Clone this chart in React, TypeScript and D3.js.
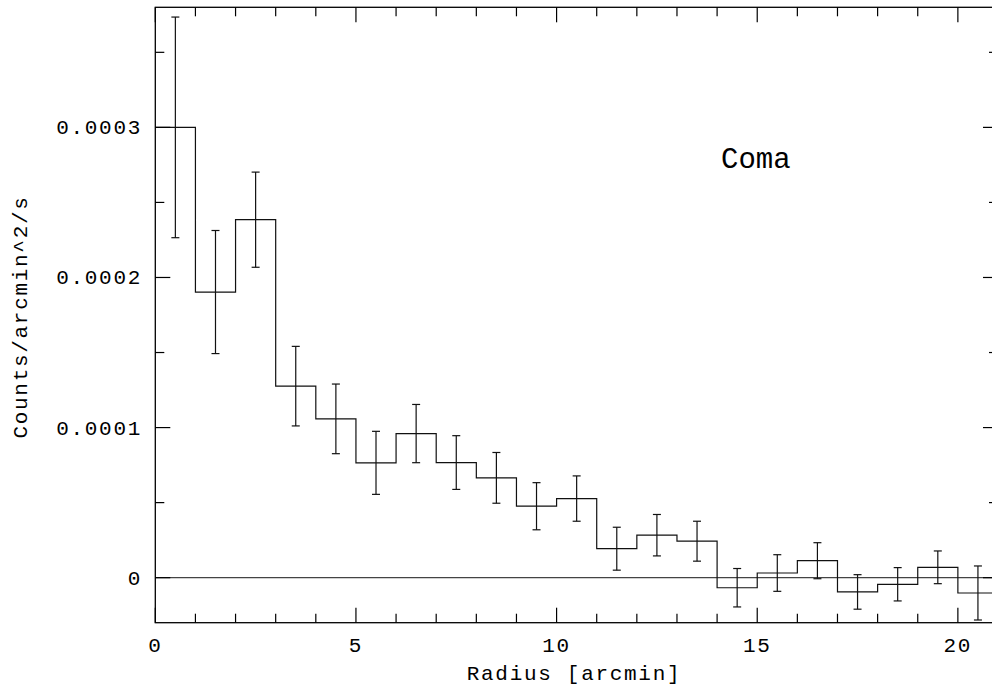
import React from "react";
import * as d3 from "d3";

const radius = [0.5, 1.5, 2.5, 3.5, 4.5, 5.5, 6.5, 7.5, 8.5, 9.5, 10.5, 11.5, 12.5, 13.5, 14.5, 15.5, 16.5, 17.5, 18.5, 19.5, 20.5];
const counts = [3.0e-4, 1.903e-4, 2.385e-4, 1.276e-4, 1.058e-4, 0.765e-4, 0.96e-4, 0.767e-4, 0.665e-4, 0.476e-4, 0.527e-4, 0.193e-4, 0.283e-4, 0.243e-4, -0.067e-4, 0.031e-4, 0.113e-4, -0.095e-4, -0.044e-4, 0.069e-4, -0.102e-4];
const errors = [0.735e-4, 0.41e-4, 0.317e-4, 0.265e-4, 0.232e-4, 0.21e-4, 0.194e-4, 0.179e-4, 0.169e-4, 0.157e-4, 0.151e-4, 0.143e-4, 0.138e-4, 0.133e-4, 0.128e-4, 0.122e-4, 0.12e-4, 0.115e-4, 0.111e-4, 0.109e-4, 0.18e-4];
const binWidth = 1;
const xMajorTicks = [0, 5, 10, 15, 20];
const yMajorTicks = [0, 0.0001, 0.0002, 0.0003];
const yTickLabels = ["0", "0.0001", "0.0002", "0.0003"];

const W = 992;
const H = 686;
const left = 155.3;
const right = 998;
const top = 7.3;
const bottom = 622.7;

const FONT = "'Liberation Mono', 'DejaVu Sans Mono', monospace";

export default function App() {
  const x = d3.scaleLinear().domain([0, 21]).range([left, right]);
  const y = d3.scaleLinear().domain([-0.3e-4, 3.8e-4]).range([bottom, top]);

  const stepPts: [number, number][] = [];
  radius.forEach((r, i) => {
    stepPts.push([r - binWidth / 2, counts[i]]);
    stepPts.push([r + binWidth / 2, counts[i]]);
  });
  const line = d3
    .line<[number, number]>()
    .x((d) => x(d[0]))
    .y((d) => y(d[1]));

  const xMinor = d3.range(0, 22, 1);
  const yMinor = d3.range(0, 3.8e-4, 0.5e-4);
  const isMajorX = (v: number) => Math.abs(v % 5) < 1e-9;
  const isMajorY = (v: number) => Math.abs(Math.round(v / 1e-4) * 1e-4 - v) < 1e-9;

  const stroke = "#111";

  return (
    <svg
      width={W}
      height={H}
      style={{ position: "absolute", left: 0, top: 0, background: "#fff" }}
    >
      <rect x={0} y={0} width={W} height={H} fill="#fff" />
      {/* zero line */}
      <line x1={left} x2={right} y1={y(0)} y2={y(0)} stroke="#444" strokeWidth={1.2} />
      {/* histogram */}
      <path d={line(stepPts) || ""} fill="none" stroke={stroke} strokeWidth={1.2} />
      {/* error bars */}
      {radius.map((r, i) => {
        const cx = x(r);
        const y1 = y(counts[i] + errors[i]);
        const y2 = y(counts[i] - errors[i]);
        return (
          <g key={i} stroke={stroke} strokeWidth={1.2}>
            <line x1={cx} x2={cx} y1={y1} y2={y2} />
            <line x1={cx - 4} x2={cx + 4} y1={y1} y2={y1} />
            <line x1={cx - 4} x2={cx + 4} y1={y2} y2={y2} />
          </g>
        );
      })}
      {/* frame */}
      <rect
        x={left}
        y={top}
        width={right - left}
        height={bottom - top}
        fill="none"
        stroke="#000"
        strokeWidth={1.3}
      />
      {/* x ticks */}
      {xMinor.map((v) => {
        const len = isMajorX(v) ? 15 : 9;
        const px = x(v);
        return (
          <g key={"xt" + v} stroke="#000" strokeWidth={1.2}>
            <line x1={px} x2={px} y1={bottom} y2={bottom - len} />
            <line x1={px} x2={px} y1={top} y2={top + len} />
          </g>
        );
      })}
      {/* y ticks */}
      {yMinor.map((v) => {
        const len = isMajorY(v) ? 15 : 9;
        const py = y(v);
        return (
          <g key={"yt" + v} stroke="#000" strokeWidth={1.2}>
            <line x1={left} x2={left + len} y1={py} y2={py} />
            <line x1={right} x2={right - len} y1={py} y2={py} />
          </g>
        );
      })}
      {/* x tick labels */}
      {xMajorTicks.map((v) => (
        <text
          key={"xl" + v}
          x={x(v)}
          y={652}
          textAnchor="middle"
          fontFamily={FONT}
          fontSize={21}
          letterSpacing={1.7}
          fill="#000"
        >
          {String(v)}
        </text>
      ))}
      {/* y tick labels */}
      {yMajorTicks.map((v, i) => (
        <text
          key={"yl" + v}
          x={142}
          y={y(v) + 7}
          textAnchor="end"
          fontFamily={FONT}
          fontSize={21}
          letterSpacing={1.7}
          fill="#000"
        >
          {yTickLabels[i]}
        </text>
      ))}
      {/* axis titles */}
      <text
        x={574}
        y={680}
        textAnchor="middle"
        fontFamily={FONT}
        fontSize={21}
        letterSpacing={1.7}
        fill="#000"
      >
        Radius [arcmin]
      </text>
      <text
        transform={`translate(27, 317) rotate(-90)`}
        textAnchor="middle"
        fontFamily={FONT}
        fontSize={21}
        letterSpacing={1.7}
        fill="#000"
      >
        Counts/arcmin^2/s
      </text>
      <text x={721} y={168} fontFamily={FONT} fontSize={29} fill="#000">
        Coma
      </text>
    </svg>
  );
}
